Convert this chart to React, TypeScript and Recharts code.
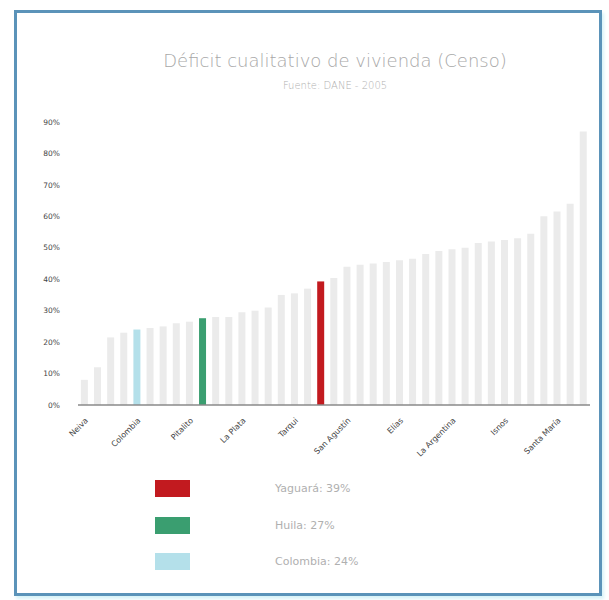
import React from "react";
import { BarChart, Bar, XAxis, YAxis, Cell } from "recharts";

const categories: string[] = [
  "Neiva", "Palermo", "Aipe", "Campoalegre", "Colombia", "Rivera", "Baraya", "Villavieja",
  "Pitalito", "Huila", "Gigante", "Garzón", "La Plata", "Tello", "Hobo", "Altamira",
  "Tarqui", "Teruel", "Yaguará", "Algeciras", "San Agustín", "Suaza", "Timaná", "Agrado",
  "Elías", "Paicol", "Palestina", "Guadalupe", "La Argentina", "Nátaga", "Oporapa", "Íquira",
  "Isnos", "Pital", "Acevedo", "Saladoblanco", "Santa María", "Colombia (Huila)", "Tesalia",
];

const deficit: number[] = [
  0.08, 0.12, 0.215, 0.23, 0.24, 0.245, 0.25, 0.26,
  0.265, 0.276, 0.28, 0.28, 0.295, 0.30, 0.31, 0.35,
  0.355, 0.37, 0.393, 0.404, 0.44, 0.446, 0.45, 0.455,
  0.46, 0.465, 0.48, 0.49, 0.495, 0.50, 0.515, 0.52,
  0.525, 0.53, 0.545, 0.60, 0.615, 0.64, 0.87,
];

const yTicks: number[] = [0, 0.1, 0.2, 0.3, 0.4, 0.5, 0.6, 0.7, 0.8, 0.9];

const highlightNames: string[] = ["Yaguará", "Huila", "Colombia"];
const highlightColors: string[] = ["#c21a1f", "#3a9e70", "#b4e0ea"];
const legendLabels: string[] = ["Yaguará: 39%", "Huila: 27%", "Colombia: 24%"];

const title = "Déficit cualitativo de vivienda (Censo)";
const subtitle = "Fuente: DANE - 2005";

const data = categories.map((name, i) => ({ name, value: deficit[i] }));

const barColor = (name: string) => {
  const idx = highlightNames.indexOf(name);
  return idx >= 0 ? highlightColors[idx] : "#ebebeb";
};

export default function App() {
  return (
    <div
      style={{
        position: "absolute",
        left: 0,
        top: 0,
        width: 609,
        height: 600,
        background: "#ffffff",
        overflow: "hidden",
      }}
    >
      <div
        style={{
          position: "absolute",
          left: 14,
          top: 10,
          width: 582,
          height: 580,
          border: "3px solid #5b93b9",
          boxShadow: "2px 3px 3px #d8f3f8",
        }}
      />
      <div
        style={{
          position: "absolute",
          left: 60,
          width: 550,
          top: 50,
          textAlign: "center",
          fontFamily: "'DejaVu Sans', sans-serif",
          fontWeight: 200,
          fontSize: 18,
          color: "#a8a8a8",
          whiteSpace: "nowrap",
        }}
      >
        {title}
      </div>
      <div
        style={{
          position: "absolute",
          left: 60,
          width: 550,
          top: 80,
          textAlign: "center",
          fontFamily: "'DejaVu Sans', sans-serif",
          fontWeight: 200,
          fontSize: 10,
          color: "#b0b0b0",
          whiteSpace: "nowrap",
        }}
      >
        {subtitle}
      </div>
      <div style={{ position: "absolute", left: 0, top: 0 }}>
        <BarChart
          width={609}
          height={600}
          data={data}
          margin={{ top: 122, right: 19, bottom: 125, left: 34 }}
          barCategoryGap="22%"
        >
          <XAxis
            dataKey="name"
            interval={3}
            angle={-45}
            textAnchor="end"
            height={70}
            tickLine={false}
            tickMargin={6}
            axisLine={{ stroke: "#8a8a8a", strokeWidth: 1.5 }}
            tick={{ fontSize: 8, fill: "#444", fontFamily: "'DejaVu Sans', sans-serif" }}
          />
          <YAxis
            width={44}
            domain={[0, 0.9]}
            ticks={yTicks}
            tickFormatter={(v: number) => `${Math.round(v * 100)}%`}
            axisLine={false}
            tickLine={false}
            tickSize={0}
            tickMargin={18}
            tick={{ fontSize: 7.5, fill: "#444", fontFamily: "'DejaVu Sans', sans-serif" }}
          />
          <Bar dataKey="value" isAnimationActive={false}>
            {data.map((d) => (
              <Cell key={d.name} fill={barColor(d.name)} />
            ))}
          </Bar>
        </BarChart>
      </div>
      <div style={{ position: "absolute", left: 155, top: 480, width: 400, height: 110 }}>
        {legendLabels.map((label, i) => (
          <div key={label}>
            <div
              style={{
                position: "absolute",
                left: 0,
                top: i * 36.5,
                width: 35,
                height: 17,
                background: highlightColors[i],
              }}
            />
            <div
              style={{
                position: "absolute",
                left: 120,
                top: i * 36.5 + 1,
                fontSize: 11,
                lineHeight: "15px",
                color: "#b0b0b0",
                fontFamily: "'DejaVu Sans', sans-serif",
                whiteSpace: "nowrap",
              }}
            >
              {label}
            </div>
          </div>
        ))}
      </div>
    </div>
  );
}
